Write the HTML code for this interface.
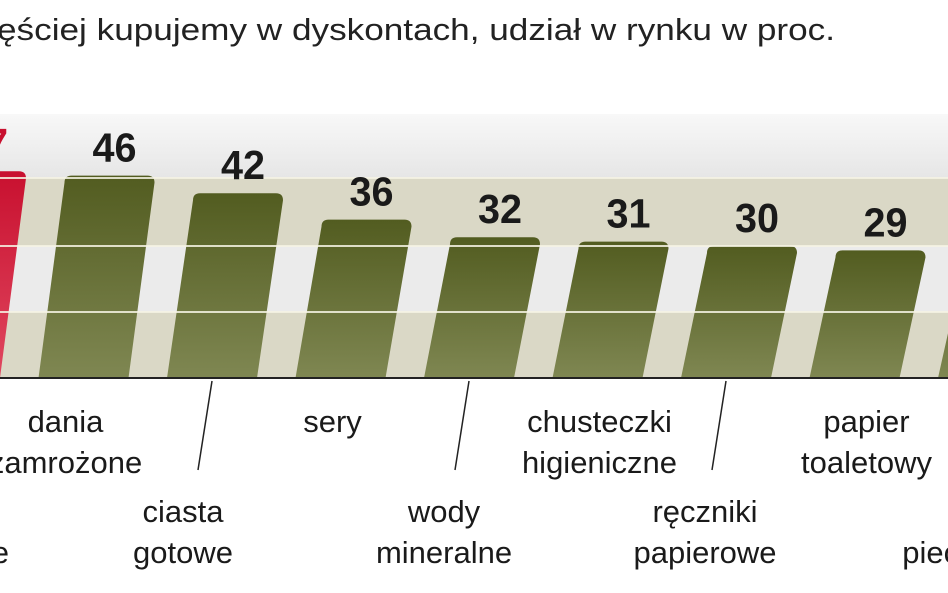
<!DOCTYPE html>
<html><head><meta charset="utf-8"><style>
html,body{margin:0;padding:0;background:#fff;width:948px;height:593px;overflow:hidden}
svg{display:block}
text{font-family:"Liberation Sans",sans-serif}
</style></head><body>
<svg id="chart" width="948" height="593" viewBox="0 0 948 593" xmlns="http://www.w3.org/2000/svg">
<defs>
<linearGradient id="gBar" x1="0" y1="0" x2="0" y2="1"><stop offset="0" stop-color="#525c20"/><stop offset="1" stop-color="#7f8752"/></linearGradient>
<linearGradient id="gRed" x1="0" y1="0" x2="0" y2="1"><stop offset="0" stop-color="#c8102f"/><stop offset="1" stop-color="#e0475f"/></linearGradient>
<linearGradient id="gTop" x1="0" y1="0" x2="0" y2="1"><stop offset="0" stop-color="#f8f8f8"/><stop offset="1" stop-color="#e6e6e6"/></linearGradient>
</defs>
<text x="-3" y="40" font-size="31" fill="#222" textLength="838" lengthAdjust="spacingAndGlyphs">ęściej kupujemy  w dyskontach, udział w rynku w proc.</text>
<g id="bands">
<rect x="0" y="114" width="948" height="64" fill="url(#gTop)"/>
<rect x="0" y="178" width="948" height="68" fill="#dad8c6"/>
<rect x="0" y="246" width="948" height="66" fill="#ebebeb"/>
<rect x="0" y="312" width="948" height="66" fill="#dad8c6"/>
</g>
<g id="bars"></g>
<g id="grid"></g>
<line x1="0" y1="378" x2="948" y2="378" stroke="#222" stroke-width="2"/>
<g id="labels"></g>
</svg>
<script>
const categories=["mrożonki","dania zamrożone","ciasta gotowe","sery","wody mineralne","chusteczki higieniczne","ręczniki papierowe","papier toaletowy","pieczywo"];
const values=[47,46,42,36,32,31,30,29,28];
const valueLabels=["47","46","42","36","32","31","30","29","28"];
const labelLines=[["","e"],["dania","zamrożone"],["ciasta","gotowe"],["sery",""],["wody","mineralne"],["chusteczki","higieniczne"],["ręczniki","papierowe"],["papier","toaletowy"],["","pieczywo"]];
const NS="http://www.w3.org/2000/svg";
const base=378, k=4.4, step=128.5, x0=-19, barW=90, slant=26;
function yScale(v){return base-v*k;}
function xScale(i){return x0+i*step;}
const gb=document.getElementById('bars'),gl=document.getElementById('labels'),gg=document.getElementById('grid');
values.forEach((v,i)=>{
  const xt=xScale(i), y=yScale(v), r=7;
  const p=document.createElementNS(NS,'path');
  
  
  p.setAttribute('d',`M${xt-barW/2-slant} ${base} L${xt-barW/2} ${y+r} Q${xt-barW/2} ${y} ${xt-barW/2+r} ${y} L${xt+barW/2-r} ${y} Q${xt+barW/2} ${y} ${xt+barW/2} ${y+r} L${xt+barW/2-slant} ${base} Z`);
  p.setAttribute('fill',i===0?'url(#gRed)':'url(#gBar)');
  gb.appendChild(p);
  const t=document.createElementNS(NS,'text');
  
  
  t.setAttribute('x',xt+5-22);t.setAttribute('y',y-14);
  t.setAttribute('font-size','41');t.setAttribute('font-weight','bold');
  t.setAttribute('textLength','44');t.setAttribute('lengthAdjust','spacingAndGlyphs');
  t.setAttribute('fill',i===0?'#c8102f':'#1a1a1a');
  t.textContent=valueLabels[i];
  gl.appendChild(t);
  const lower=(i%2===0);
  const cx=xt+(lower?(-59+i*2):(-49+i*5));
  const lines=labelLines[i];
  const ys=lower?[522,563]:[432,473];
  lines.forEach((s,j)=>{
    if(!s)return;
    const lt=document.createElementNS(NS,'text');
    
    
    if(i===0){lt.setAttribute('x',9);lt.setAttribute('text-anchor','end');}
    else{lt.setAttribute('x',cx);lt.setAttribute('text-anchor','middle');}
    lt.setAttribute('y',ys[j]);
    lt.setAttribute('font-size','31');lt.setAttribute('fill','#1a1a1a');
    lt.textContent=s;gl.appendChild(lt);
  });
  if(lower&&i>0&&i<8){
    const ln=document.createElementNS(NS,'line');
    
    
    ln.setAttribute('x1',xt-26);ln.setAttribute('y1',381);ln.setAttribute('x2',xt-40);ln.setAttribute('y2',470);
    ln.setAttribute('stroke','#222');ln.setAttribute('stroke-width','1.5');
    gl.appendChild(ln);
  }
});
[178,246,312].forEach((y,i)=>{
  const l=document.createElementNS(NS,'line');
  
  
  l.setAttribute('x1',0);l.setAttribute('x2',948);l.setAttribute('y1',y);l.setAttribute('y2',y);
  l.setAttribute('stroke','#f6f4e4');l.setAttribute('stroke-width','2');l.setAttribute('opacity','0.85');
  gg.appendChild(l);
});
</script>
</body></html>
